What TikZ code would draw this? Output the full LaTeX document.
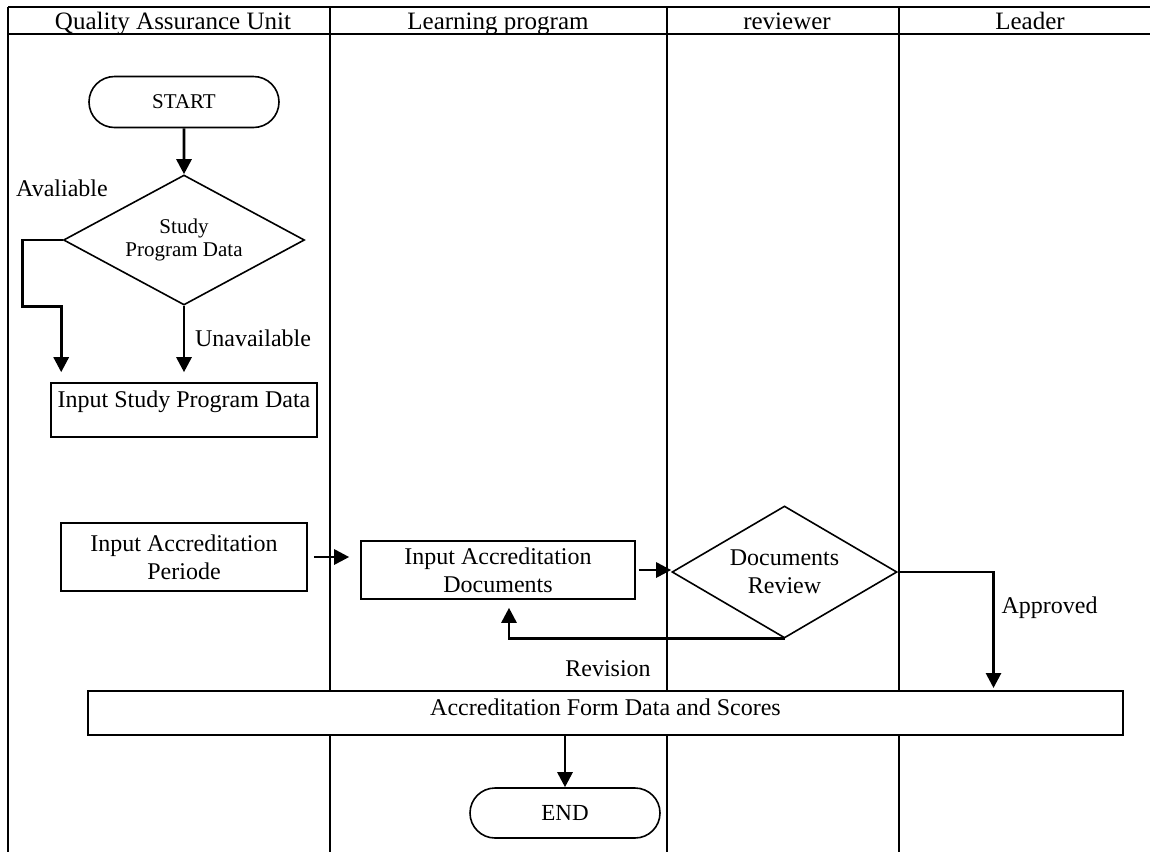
\documentclass[tikz,border=0pt]{standalone}
\usepackage{fontspec}
\setmainfont{Liberation Serif}
\usetikzlibrary{shapes.geometric,shapes.misc,arrows.meta,calc}
\tikzset{
every node/.style={font=\fontsize{12}{14}\selectfont},
procbox/.style={draw, rectangle, fill=white, line width=0.8pt, align=center, inner sep=0pt},
decide/.style={draw, diamond, fill=white, line width=0.8pt, align=center, inner sep=0pt},
termin/.style={draw, rounded rectangle, fill=white, line width=0.8pt, inner sep=0pt},
flow/.style={-{Triangle[width=7.5pt,length=7.5pt]}, line width=1.4pt},
lane/.style={line width=1pt}
}

\begin{document}
\begin{tikzpicture}[x=0.5pt, y=-0.5pt]
\useasboundingbox (0,0) rectangle (1150,852);
\draw[lane] (8,7) -- (1150,7);
\draw[lane] (8,34) -- (1150,34);
\foreach \lx in {8,330,667,899} \draw[lane] (\lx,7) -- (\lx,852);
\node[anchor=base, font=\fontsize{12.5}{14}\selectfont] (hqa) at (173,29) {Quality Assurance Unit};
\node[anchor=base, font=\fontsize{12.5}{14}\selectfont] (hlp) at (498,29) {Learning program};
\node[anchor=base, font=\fontsize{12.5}{14}\selectfont] (hrv) at (787,29) {reviewer};
\node[anchor=base, font=\fontsize{12.5}{14}\selectfont] (hld) at (1030,29) {Leader};

\node[termin, minimum width=95pt, minimum height=25.5pt, font=\fontsize{10.5}{12}\selectfont] (start) at (184,102) {START};
\node[decide, minimum width=120.5pt, minimum height=65pt, aspect=1.85, font=\fontsize{10.5}{11.5}\selectfont] (sd) at (184,240) {Study\\Program Data};
\node[procbox, minimum width=133pt, text height=12pt, text depth=15pt] (isp) at (184,410) {Input Study Program Data};
\node (avl) at (62,188) {Avaliable};

\node[procbox, minimum width=123pt, minimum height=34pt] (per) at (184,557) {Input Accreditation\\Periode};
\node[procbox, minimum width=137pt, minimum height=29pt] (doc) at (498,570) {Input Accreditation\\Documents};
\node[decide, minimum width=112.5pt, minimum height=66pt, aspect=1.7] (rev) at (784.5,572) {Documents\\Review};
\node (rvs) at (608,669) {Revision};

\node[procbox, line width=1pt, minimum width=517.5pt, text height=12pt, text depth=10pt] (form) at (605.5,713) {Accreditation Form Data and Scores};
\node[termin, minimum width=95pt, minimum height=25pt, font=\fontsize{11.5}{13}\selectfont] (endn) at (565,813) {END};

\draw[flow] (start) -- (sd);
\draw[flow] (sd.west) -- ++(-40,0) |- ([xshift=5.5pt,yshift=38pt]isp.north west) -- ([xshift=5.5pt,yshift=5pt]isp.north west);
\draw[flow, shorten >=5pt] (sd.south) -- node[right, xshift=1.5pt, pos=0.42] (unav) {Unavailable} (isp.north);
\draw[flow, shorten <=3pt, shorten >=5.5pt] (per.east) -- (per.east -| doc.west);
\draw[flow, shorten <=1.5pt] (doc.east) -- (doc.east -| rev.west);
\draw[flow, shorten >=4pt] (rev.south) -| ([xshift=5.5pt]doc.south);
\draw[flow, shorten >=1pt] (rev.east) -| node[right, pos=0.65] (apv) {Approved} ([xshift=194pt]form.north);
\draw[flow] (form.south -| endn.north) -- (endn.north);
\end{tikzpicture}
\end{document}
